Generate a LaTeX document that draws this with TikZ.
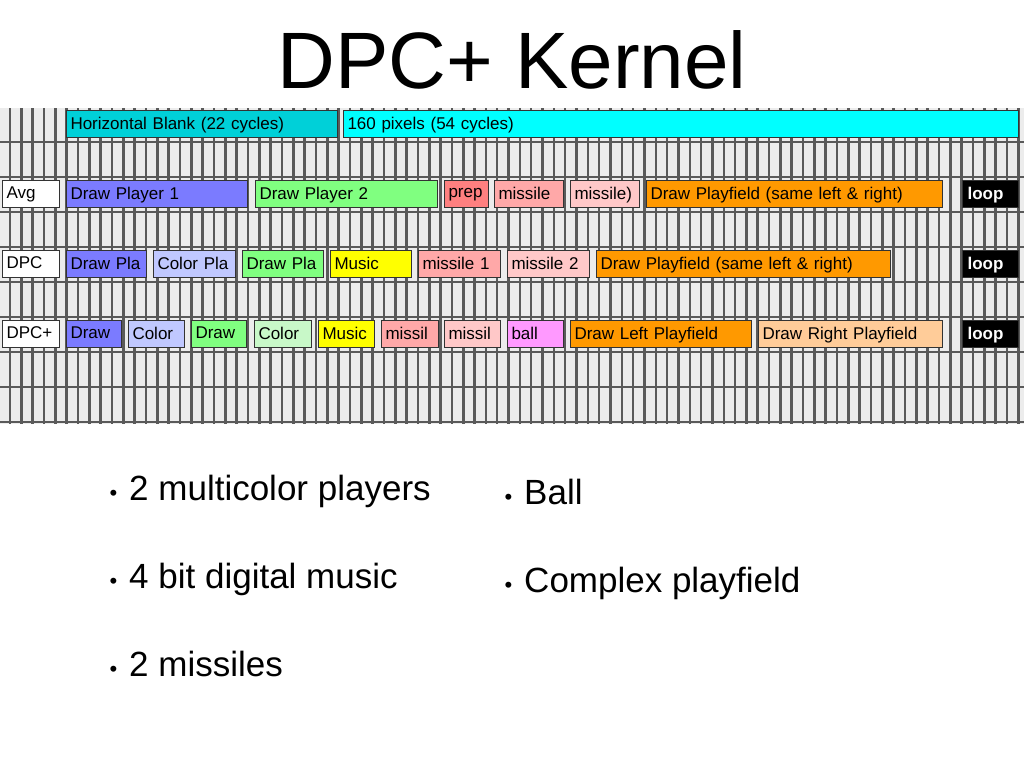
\documentclass[tikz,border=0pt]{standalone}
\usepackage{fontspec}
\setmainfont{Liberation Sans}
\definecolor{gridbg}{HTML}{ECECEC}
\definecolor{gridln}{HTML}{5A5A5A}
\definecolor{cyanA}{HTML}{00D0D8}
\definecolor{cyanB}{HTML}{00FFFF}
\definecolor{bl}{HTML}{7B7BFF}
\definecolor{lbl}{HTML}{C0C8FF}
\definecolor{gr}{HTML}{80FF80}
\definecolor{lgr}{HTML}{C8F8C8}
\definecolor{ye}{HTML}{FFFF00}
\definecolor{rd}{HTML}{FF8080}
\definecolor{pk}{HTML}{FFA8A8}
\definecolor{lpk}{HTML}{FFC8C8}
\definecolor{vi}{HTML}{FF99FF}
\definecolor{or}{HTML}{FF9900}
\definecolor{lor}{HTML}{FFCC99}
\tikzset{box/.style={draw=black!80,line width=1pt,inner sep=0pt,minimum height=27,
  anchor=west,font=\fontsize{17}{19}\selectfont,text depth=0.2em},
  bullet/.style={anchor=base west,font=\fontsize{35}{40}\selectfont}}
\newcommand{\bx}[6]{\path let \n1={#3-#2} in node[box,fill=#5,minimum width=\n1,text width=\n1-6,align=left] (#1) at (#2,#4) {\hspace*{1pt}#6};}
\usetikzlibrary{calc}
\begin{document}
\begin{tikzpicture}[x=1pt,y=-1pt]
\useasboundingbox (0,0) rectangle (1024,768);
\fill[gridbg] (0,108) rectangle (1024,424);
\foreach \i in {0,...,89} \draw[gridln,line width=2.6pt] ({10+11.33*\i},108) -- ({10+11.33*\i},424);
\foreach \y in {142,177,212,247,282,317,352,387,422} \draw[gridln,line width=2.6pt] (0,\y) -- (1024,\y);
\node[font=\fontsize{80}{84}\selectfont] (title) at (512,60) {DPC+ Kernel};
% row 0
\bx{hb}{66}{337}{124}{cyanA}{Horizontal Blank (22 cycles)}
\bx{px}{343}{1018}{124}{cyanB}{160 pixels (54 cycles)}
% Avg
\bx{a0}{2}{59}{194}{white}{Avg}
\bx{a1}{66}{247}{194}{bl}{Draw Player 1}
\bx{a2}{255}{437}{194}{gr}{Draw Player 2}
\bx{a3}{444}{488}{194}{rd}{prep}
\bx{a4}{494}{563}{194}{pk}{missile}
\bx{a5}{570}{639}{194}{lpk}{missile)}
\bx{a6}{646}{942}{194}{or}{Draw Playfield (same left \& right)}
\node[box,fill=black,text=white,minimum width=56,font=\bfseries\fontsize{17}{19}\selectfont] (a7) at (962,194) {\hspace*{2pt}loop\hspace*{12pt}};
% DPC
\bx{d0}{2}{59}{264}{white}{DPC}
\bx{d1}{66}{146}{264}{bl}{Draw Pla}
\bx{d2}{153}{235}{264}{lbl}{Color Pla}
\bx{d3}{242}{323}{264}{gr}{Draw Pla}
\bx{d4}{330}{411}{264}{ye}{Music}
\bx{d5}{418}{500}{264}{pk}{missile 1}
\bx{d6}{507}{589}{264}{lpk}{missile 2}
\bx{d7}{596}{890}{264}{or}{Draw Playfield (same left \& right)}
\node[box,fill=black,text=white,minimum width=56,font=\bfseries\fontsize{17}{19}\selectfont] (d8) at (962,264) {\hspace*{2pt}loop\hspace*{12pt}};
% DPC+
\bx{p0}{2}{59}{334}{white}{DPC+}
\bx{p1}{66}{121}{334}{bl}{Draw}
\bx{p2}{128}{184}{334}{lbl}{Color}
\bx{p3}{191}{246}{334}{gr}{Draw}
\bx{p4}{254}{311}{334}{lgr}{Color}
\bx{p5}{318}{374}{334}{ye}{Music}
\bx{p6}{381}{438}{334}{pk}{missil}
\bx{p7}{444}{500}{334}{lpk}{missil}
\bx{p8}{507}{563}{334}{vi}{ball}
\bx{p9}{570}{751}{334}{or}{Draw Left Playfield}
\bx{p10}{758}{942}{334}{lor}{Draw Right Playfield}
\node[box,fill=black,text=white,minimum width=56,font=\bfseries\fontsize{17}{19}\selectfont] (p11) at (962,334) {\hspace*{2pt}loop\hspace*{12pt}};
% bullets
\node[bullet] (b1) at (106,500) {{\fontsize{22}{24}\selectfont •}\hspace{12pt}2 multicolor players};
\node[bullet] (b2) at (106,588) {{\fontsize{22}{24}\selectfont •}\hspace{12pt}4 bit digital music};
\node[bullet] (b3) at (106,676) {{\fontsize{22}{24}\selectfont •}\hspace{12pt}2 missiles};
\node[bullet] (b4) at (501,504) {{\fontsize{22}{24}\selectfont •}\hspace{12pt}Ball};
\node[bullet] (b5) at (501,592) {{\fontsize{22}{24}\selectfont •}\hspace{12pt}Complex playfield};
\end{tikzpicture}
\end{document}
